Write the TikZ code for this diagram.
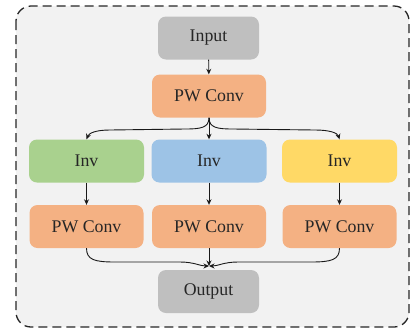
\documentclass[tikz,border=0pt]{standalone}
\usepackage{fontspec}
\setmainfont{Liberation Serif}
\usetikzlibrary{arrows.meta}
\definecolor{bgc}{HTML}{F2F2F2}
\definecolor{grayc}{HTML}{BFBFBF}
\definecolor{orangec}{HTML}{F4B183}
\definecolor{greenc}{HTML}{A9D18E}
\definecolor{bluec}{HTML}{9DC3E6}
\definecolor{yellowc}{HTML}{FFD966}
\definecolor{txt}{HTML}{262626}
\tikzset{
  blk/.style={rounded corners=8pt, minimum height=43pt, inner sep=0pt, text=txt,
    font=\fontsize{17.8pt}{20pt}\selectfont},
  io/.style={blk, fill=grayc, minimum width=101pt},
  pw/.style={blk, fill=orangec, minimum width=114pt},
  inv/.style={blk, minimum width=115pt},
  arr/.style={line width=0.9pt, draw=black!90, -{Stealth[length=5.5pt,width=5pt]}},
  frame/.style={draw=black!85, line width=1.3pt, dash pattern=on 9pt off 5pt, rounded corners=15pt, fill=bgc}
}
\begin{document}
\begin{tikzpicture}[x=1pt,y=-1pt]
\useasboundingbox (0,0) rectangle (410,333);
\path[frame] (16,6) rectangle (409,327);
\node[io] (in) at (208.5,38) {Input};
\node[pw] (pw0) at (209,96) {PW Conv};
\node[inv, fill=greenc] (inv1) at (86.5,161) {Inv};
\node[inv, fill=bluec] (inv2) at (209,161) {Inv};
\node[inv, fill=yellowc] (inv3) at (339.5,161) {Inv};
\node[pw] (pw1) at (86.5,226.5) {PW Conv};
\node[pw] (pw2) at (209,226.5) {PW Conv};
\node[pw] (pw3) at (339.5,226.5) {PW Conv};
\node[io] (out) at (208.5,291.5) {Output};
\coordinate (m) at (209,266);
\draw[arr] (in) -- (pw0);
\draw[arr] (pw0.south) -- (inv2.north);
\draw[arr] (pw0.south) .. controls (209,128) and (200,129) .. (185,129) -- (110,130) .. controls (96,130) and (89,133) .. (inv1.north);
\draw[arr] (pw0.south) .. controls (209,128) and (218,129) .. (233,129) -- (315,130) .. controls (330,130) and (337.5,133) .. (inv3.north);
\draw[arr] (inv1) -- (pw1);
\draw[arr] (inv2) -- (pw2);
\draw[arr] (inv3) -- (pw3);
\draw[arr] (pw2.south) -- (m);
\draw[arr] (pw1.south) .. controls (86.5,260) and (95,262) .. (115,262) -- (180,262) .. controls (194,262) and (200,266) .. (m);
\draw[arr] (pw3.south) .. controls (339.5,260) and (331,262) .. (311,262) -- (238,262) .. controls (224,262) and (218,266) .. (m);
\end{tikzpicture}
\end{document}
